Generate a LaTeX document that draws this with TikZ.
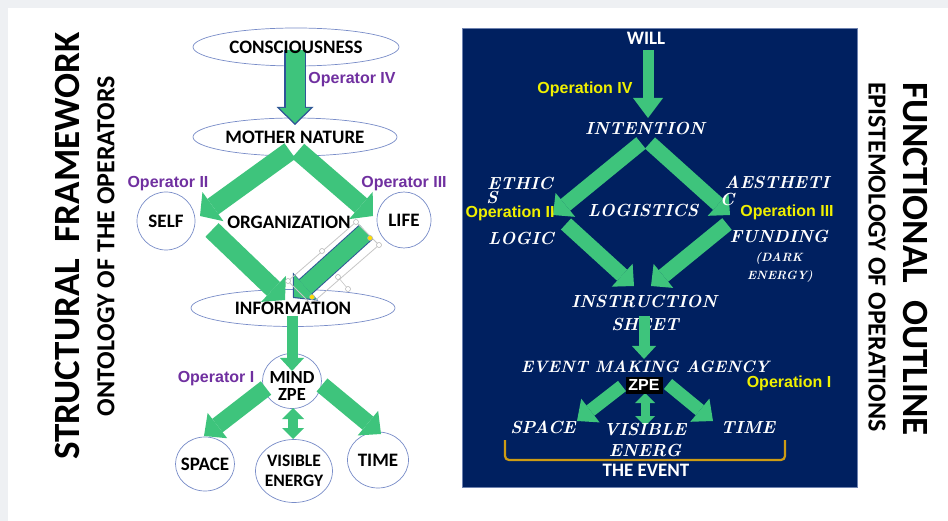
\documentclass[tikz,border=0pt]{standalone}
\usepackage{fontspec}
\newfontfamily\calfont{Carlito}
\newfontfamily\arfont{Liberation Sans}
\usetikzlibrary{arrows.meta,shapes.geometric,calc}
\definecolor{ggreen}{RGB}{62,196,124}
\definecolor{ellblue}{RGB}{120,140,200}
\definecolor{bggray}{RGB}{238,240,243}
\definecolor{navy}{RGB}{0,32,96}
\definecolor{navyedge}{RGB}{110,130,175}
\definecolor{gold}{RGB}{205,155,20}
\definecolor{opurple}{RGB}{112,48,160}
\definecolor{oyellow}{RGB}{240,240,0}
\definecolor{outblue}{RGB}{47,85,151}
\begin{document}
\begin{tikzpicture}[x=1pt,y=-1pt,
  lab/.style={font=\calfont\bfseries\fontsize{19}{21}\selectfont, inner sep=0pt, align=center},
  opl/.style={font=\arfont\bfseries\fontsize{16}{18}\selectfont, text=opurple, inner sep=0pt},
  opr/.style={font=\arfont\bfseries\fontsize{16}{18}\selectfont, text=oyellow, inner sep=0pt},
  scr/.style={font=\bfseries\itshape\fontsize{17.5}{21}\selectfont, text=white, inner sep=0pt},
  scrs/.style={font=\bfseries\itshape\fontsize{12}{14}\selectfont, text=white, inner sep=0pt},
  shp/.style={ellipse, draw=ellblue, line width=0.7pt, fill=white, inner sep=0pt},
  ga/.style={draw=ggreen, line width=19pt, -{Triangle[length=16pt,width=36pt,line width=0pt]}},
  gm/.style={draw=ggreen, line width=17pt, -{Triangle[length=17pt,width=32pt,line width=0pt]}},
  gs/.style={draw=ggreen, line width=11pt, -{Triangle[length=13pt,width=24pt,line width=0pt]}},
  gd/.style={draw=ggreen, line width=10pt, {Triangle[length=11pt,width=22pt,line width=0pt]}-{Triangle[length=11pt,width=22pt,line width=0pt]}},
  gb/.style={draw=ggreen, line width=15pt, -{Triangle[length=16pt,width=31pt,line width=0pt]}},
  gw/.style={draw=ggreen, line width=11pt, -{Triangle[length=20pt,width=30pt,line width=0pt]}},
  gz/.style={draw=ggreen, line width=13pt, -{Triangle[length=17pt,width=30pt,line width=0pt]}},
  handle/.style={circle, draw=gray!60, fill=white, line width=0.5pt, inner sep=0pt, minimum size=5pt},
  yhandle/.style={circle, draw=gray!60, fill=yellow!80!orange, line width=0.5pt, inner sep=0pt, minimum size=5pt},
  ttl/.style={font=\calfont\bfseries\fontsize{37}{40}\selectfont, inner sep=0pt},
  sub/.style={font=\calfont\bfseries\fontsize{26}{30}\selectfont, inner sep=0pt}
]
\useasboundingbox (0,0) rectangle (948,521);
\fill[bggray] (0,0) rectangle (948,521);
\fill[white] (8,8) rectangle (948,521);

% ---------- left titles ----------
\node[ttl, rotate=90] (ttlL) at (68,246) {STRUCTURAL\ \ FRAMEWORK};
\node[sub, rotate=90] (subL) at (106,246) {ONTOLOGY OF THE OPERATORS};

% ---------- left shapes ----------
\node[shp, minimum width=206pt, minimum height=38pt] (cons) at (296,47) {};
\node[shp, minimum width=204pt, minimum height=38pt] (mn) at (295,137) {};
\node[shp, minimum width=204pt, minimum height=37pt] (info) at (293,308) {};
\node[shp, minimum width=58pt, minimum height=58pt] (self) at (166,221) {};
\node[shp, minimum width=54pt, minimum height=56pt] (life) at (404,220) {};
\node[shp, minimum width=59pt, minimum height=55pt] (mind) at (292,381) {};
\node[shp, minimum width=59pt, minimum height=54pt] (space) at (205,464) {};
\node[shp, minimum width=77pt, minimum height=63pt] (vis) at (294,471) {};
\node[shp, minimum width=61pt, minimum height=56pt] (time) at (378,460) {};

% ---------- left arrows ----------
\coordinate (c1) at (295,50);  \coordinate (c2) at (295,125);
\draw[draw=outblue, line width=22pt, -{Triangle[length=18pt,width=37pt,line width=0pt]}] (c1) -- (c2);
\draw[draw=ggreen, line width=19pt, -{Triangle[length=15pt,width=31pt,line width=0pt]}, shorten >=2pt] (c1) -- (c2);

\coordinate (m1) at (290,151); \coordinate (selfT) at (200,216);
\coordinate (m2) at (298,151); \coordinate (lifeT) at (373,216);
\coordinate (o1) at (212,230); \coordinate (infoL) at (285,300);
\coordinate (o2) at (366,232); \coordinate (infoR) at (293,298);
\draw[ga] (m1) -- (selfT);
\draw[ga] (m2) -- (lifeT);
\draw[ga] (o1) -- (infoL);
\draw[draw=outblue, line width=20pt, -{Triangle[length=17pt,width=38pt,line width=0pt]}] (o2) -- (infoR);
\draw[draw=ggreen, line width=18pt, -{Triangle[length=15pt,width=34pt,line width=0pt]}, shorten >=1.5pt] (o2) -- (infoR);

% selection artefact around the lower right arrow
\coordinate (sA) at (356,222); \coordinate (sB) at (379,245);
\coordinate (sC) at (311,304); \coordinate (sD) at (288,281);
\draw[gray!45, line width=0.8pt] (sA) -- (sB) -- (sC) -- (sD) -- cycle;
\draw[gray!45, line width=0.6pt] (338,277) -- (348,289);
\node[handle] (h1) at (sA) {};
\node[handle] (h2) at (sB) {};
\node[handle] (h3) at (sD) {};
\node[handle] (h4) at (322,251) {};
\node[handle] (h5) at (338,277) {};
\node[handle] (h6) at (348,289) {};
\node[yhandle] (h7) at (370,238) {};
\node[yhandle] (h8) at (312,297) {};

\coordinate (i1) at (292,316); \coordinate (mindT) at (292,371);
\draw[gs] (i1) -- (mindT);
\coordinate (k1) at (266,388); \coordinate (spaceT) at (204,436);
\coordinate (k2) at (322,385); \coordinate (timeT) at (381,434);
\draw[gm] (k1) -- (spaceT);
\draw[gm] (k2) -- (timeT);
\coordinate (v1) at (293,408); \coordinate (v2) at (293,439);
\draw[gd] (v1) -- (v2);

% ---------- left labels ----------
\node[lab] (consT) at (cons.center) {CONSCIOUSNESS};
\node[lab] (mnT) at (mn.center) {MOTHER NATURE};
\node[lab] (infoT) at (info.center) {INFORMATION};
\node[lab] (orgT) at (289,222) {ORGANIZATION};
\node[lab] (selfX) at (self.center) {SELF};
\node[lab] (lifeX) at (life.center) {LIFE};
\node[lab, font=\calfont\bfseries\fontsize{18.5}{17}\selectfont] (mindX) at (292,386) {MIND\\ZPE};
\node[lab] (spaceX) at (space.center) {SPACE};
\node[lab, font=\calfont\bfseries\fontsize{17.5}{20}\selectfont] (visX) at (vis.center) {VISIBLE\\ENERGY};
\node[lab] (timeX) at (time.center) {TIME};
\node[opl] (op4) at (352,80) {Operator IV};
\node[opl] (op2) at (168,184) {Operator II};
\node[opl] (op3) at (404,184) {Operator III};
\node[opl] (op1) at (216,379) {Operator I};

% ---------- right panel ----------
\node[draw=navyedge, fill=navy, line width=0.8pt, minimum width=395pt, minimum height=459pt, inner sep=0pt] (panel) at (659.5,257.5) {};

\coordinate (w1) at (648,50); \coordinate (intT) at (648,118);
\draw[gw] (w1) -- (intT);
\coordinate (n1) at (641,143); \coordinate (ethT) at (553,215);
\coordinate (n2) at (650,143); \coordinate (aesT) at (730,215);
\coordinate (q1) at (566,224); \coordinate (insL) at (634,286);
\coordinate (q2) at (727,224); \coordinate (insR) at (651,286);
\draw[gb] (n1) -- (ethT);
\draw[gb] (n2) -- (aesT);
\draw[gb] (q1) -- (insL);
\draw[gb] (q2) -- (insR);

\node[lab, text=white] (will) at (646,38) {WILL};
\node[opr] (op4r) at (585,89) {Operation IV};
\node[scr] (intent) at (645,128) {INTENTION};
\node[scr] (ethic) at (520,183) {ETHIC};
\node[scr] (ethS) at (492,197) {S};
\node[opr] (op2r) at (510,213) {Operation II};
\node[scr] (logic) at (521,238) {LOGIC};
\node[scr] (logist) at (643,210) {LOGISTICS};
\node[scr] (aes) at (777,182) {AESTHETI};
\node[scr] (aesC) at (727,199) {C};
\node[opr] (op3r) at (787,212) {Operation III};
\node[scr] (fund) at (779,236) {FUNDING};
\node[scrs] (dark) at (779,258) {(DARK};
\node[scrs] (energy) at (780,276) {ENERGY)};
\node[scr] (instr) at (644,301) {INSTRUCTION};
\node[scr] (sheet) at (645,324) {SHEET};

\coordinate (s1) at (644,316); \coordinate (evT) at (644,359);
\draw[gs] (s1) -- (evT);

\node[scr, font=\bfseries\itshape\fontsize{16.5}{20}\selectfont] (event) at (645,367) {EVENT MAKING AGENCY};
\coordinate (z1) at (622,386); \coordinate (spT) at (577,421);
\coordinate (z2) at (668,384); \coordinate (tmT) at (713,421);
\draw[gz] (z1) -- (spT);
\draw[gz] (z2) -- (tmT);
\coordinate (z3) at (645,393); \coordinate (visT) at (645,426);
\draw[draw=ggreen, line width=9pt, {Triangle[length=10pt,width=20pt,line width=0pt]}-{Triangle[length=10pt,width=20pt,line width=0pt]}] (z3) -- (visT);
\node[fill=black, text=white, font=\arfont\bfseries\fontsize{16}{18}\selectfont, inner sep=1.5pt, minimum width=37pt, minimum height=17pt] (zpe) at (644,385) {ZPE};
\node[opr] (op1r) at (789,383) {Operation I};
\node[scr] (spaceR) at (543,427) {SPACE};
\node[scr] (visR) at (645,429) {VISIBLE};
\node[scr] (energR) at (645,450) {ENERG};
\node[scr] (timeR) at (748,427) {TIME};
\coordinate (b1) at (505,440); \coordinate (b2) at (505,460);
\coordinate (b3) at (785,460); \coordinate (b4) at (785,440);
\draw[gold, line width=2.2pt, rounded corners=4pt] (b1) -- (b2) -- (b3) -- (b4);
\node[lab, text=white] (theev) at (646,470) {THE EVENT};

% ---------- right titles ----------
\node[ttl, rotate=-90] (ttlR) at (915,259) {FUNCTIONAL\ \ OUTLINE};
\node[sub, rotate=-90] (subR) at (877,257) {EPISTEMOLOGY OF OPERATIONS};
\end{tikzpicture}
\end{document}
